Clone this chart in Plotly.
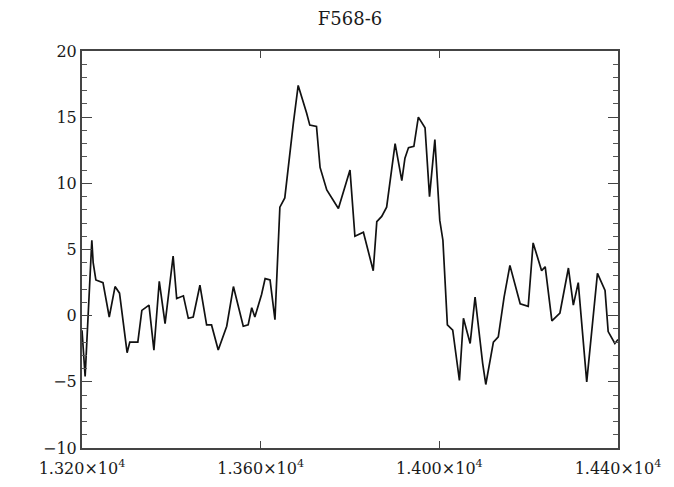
import plotly.graph_objects as go

# Spectrum of F568-6: wavelength-like axis vs. flux
wave = [13200, 13207, 13222, 13225, 13231, 13247, 13261, 13274, 13284, 13301,
        13307, 13325, 13334, 13350, 13361, 13373, 13386, 13404, 13412, 13427,
        13438, 13449, 13464, 13479, 13490, 13505, 13524, 13539, 13561, 13572,
        13580, 13587, 13602, 13610, 13621, 13632, 13643, 13654, 13673, 13684,
        13703, 13710, 13725, 13733, 13748, 13774, 13800, 13811, 13830, 13852,
        13860, 13871, 13882, 13901, 13916, 13923, 13931, 13943, 13953, 13968,
        13978, 13990, 14001, 14008, 14018, 14030, 14045, 14054, 14069, 14080,
        14097, 14104, 14121, 14132, 14145, 14158, 14181, 14199, 14210, 14229,
        14237, 14252, 14270, 14289, 14300, 14311, 14330, 14349, 14354, 14371,
        14375, 14378, 14393, 14400]
flux = [-1.1, -4.6, 5.7, 4.0, 2.7, 2.5, -0.1, 2.2, 1.7, -2.8,
        -2.0, -2.0, 0.4, 0.8, -2.6, 2.6, -0.6, 4.5, 1.3, 1.5,
        -0.2, -0.1, 2.3, -0.7, -0.7, -2.6, -0.8, 2.2, -0.8, -0.7,
        0.6, -0.1, 1.6, 2.8, 2.7, -0.3, 8.2, 8.9, 14.5, 17.4,
        15.3, 14.4, 14.3, 11.2, 9.5, 8.1, 11.0, 6.0, 6.3, 3.4,
        7.1, 7.5, 8.2, 13.0, 10.2, 11.9, 12.7, 12.8, 15.0, 14.2,
        9.0, 13.3, 7.2, 5.7, -0.7, -1.1, -4.9, -0.2, -2.1, 1.4,
        -3.6, -5.2, -2.0, -1.6, 1.4, 3.8, 0.9, 0.7, 5.5, 3.4,
        3.7, -0.4, 0.2, 3.6, 0.8, 2.5, -5.0, 1.9, 3.2, 1.9,
        -0.1, -1.2, -2.1, -1.8]

x_ticks = [13200, 13600, 14000, 14400]
x_labels = ["1.320×10<sup>4</sup>", "1.360×10<sup>4</sup>",
            "1.400×10<sup>4</sup>", "1.440×10<sup>4</sup>"]
y_ticks = [-10, -5, 0, 5, 10, 15, 20]

font_family = "DejaVu Serif, Liberation Serif, serif"

fig = go.Figure(go.Scatter(
    x=wave, y=flux, mode="lines",
    line=dict(color="#111111", width=1.7),
    hoverinfo="skip",
))

fig.update_layout(
    width=674, height=487,
    margin=dict(l=82, r=56, t=51, b=39),
    paper_bgcolor="white", plot_bgcolor="white",
    showlegend=False,
    title=dict(text="F568-6", x=0.5, xanchor="center", y=0.962, yanchor="middle",
               xref="paper",
               font=dict(family=font_family, size=18, color="#1a1a1a")),
    font=dict(family=font_family, size=16, color="#1a1a1a"),
)

fig.update_xaxes(
    range=[13200, 14400], tickvals=x_ticks, ticktext=x_labels,
    ticks="inside", ticklen=7, tickwidth=1.2, tickcolor="#444444",
    ticklabelstandoff=5, automargin=False,
    showline=True, linecolor="#444444", linewidth=2, mirror="allticks",
    showgrid=False, zeroline=False,
    tickfont=dict(family=font_family, size=16, color="#1a1a1a"),
)
fig.update_yaxes(
    range=[-10, 20], tickvals=y_ticks, automargin=False,
    ticks="inside", ticklen=10, tickwidth=1.2, tickcolor="#444444",
    minor=dict(ticks="inside", dtick=1, ticklen=5, tickwidth=1, tickcolor="#555555"),
    showline=True, linecolor="#444444", linewidth=2, mirror="allticks",
    showgrid=False, zeroline=False,
    tickfont=dict(family=font_family, size=16, color="#1a1a1a"),
)

fig.write_html("out.html")
